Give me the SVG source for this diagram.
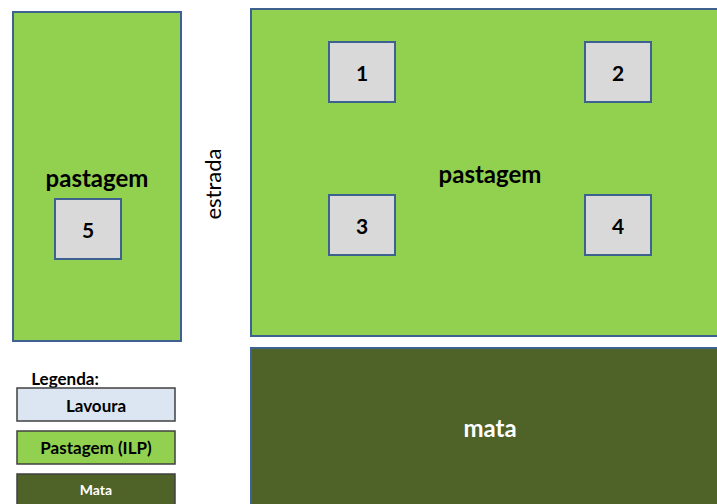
<svg xmlns="http://www.w3.org/2000/svg" width="717" height="504" viewBox="0 0 717 504">
  <style>
    .field { fill: #92D050; stroke: #3E6290; stroke-width: 2; }
    .forest { fill: #4F6228; stroke: #3E6290; stroke-width: 2; }
    .plot { fill: #D9D9D9; stroke: #3E6290; stroke-width: 2; }
    .t { font-family: Lato, "Liberation Sans", sans-serif; font-weight: bold; text-anchor: middle; dominant-baseline: central; fill: #000; }
    .big { font-size: 24px; }
    .num { font-size: 21px; }
    .leg { font-size: 17px; }
    .lg { stroke: #404040; stroke-width: 1.5; }
  </style>

  <!-- left pasture -->
  <g id="pasto-esquerda">
    <rect class="field" x="13" y="12" width="168" height="329"/>
    <text class="t big" x="97" y="177">pastagem</text>
  </g>
  <g id="parcela-5">
    <rect class="plot" x="55" y="199" width="66" height="60"/>
    <text class="t num" x="88" y="229">5</text>
  </g>

  <!-- road label -->
  <g id="estrada">
    <text x="212" y="184" transform="rotate(-90 212 184)" font-family="Lato, 'Liberation Sans', sans-serif" font-size="22" text-anchor="middle" dominant-baseline="central" fill="#000">estrada</text>
  </g>

  <!-- right pasture -->
  <g id="pasto-direita">
    <rect class="field" x="251" y="9" width="470" height="327"/>
    <text class="t big" x="490" y="173">pastagem</text>
  </g>
  <g id="parcela-1">
    <rect class="plot" x="329" y="42" width="66" height="60"/>
    <text class="t num" x="362" y="72">1</text>
  </g>
  <g id="parcela-2">
    <rect class="plot" x="585" y="42" width="66" height="60"/>
    <text class="t num" x="618" y="72">2</text>
  </g>
  <g id="parcela-3">
    <rect class="plot" x="329" y="195" width="66" height="60"/>
    <text class="t num" x="362" y="225">3</text>
  </g>
  <g id="parcela-4">
    <rect class="plot" x="585" y="195" width="66" height="60"/>
    <text class="t num" x="618" y="225">4</text>
  </g>

  <!-- forest -->
  <g id="mata">
    <rect class="forest" x="251" y="348" width="470" height="170"/>
    <text class="t big" x="490" y="427" style="fill:#FFFFFF">mata</text>
  </g>

  <!-- legend -->
  <g id="legenda">
    <text class="t leg" x="65" y="378">Legenda:</text>
    <rect class="lg" x="17" y="388" width="158" height="33" fill="#DCE6F2"/>
    <text class="t leg" x="96" y="405">Lavoura</text>
    <rect class="lg" x="17" y="431" width="158" height="33" fill="#92D050"/>
    <text class="t leg" x="96" y="447">Pastagem (ILP)</text>
    <rect class="lg" x="17" y="474" width="158" height="40" fill="#4F6228"/>
    <text class="t" x="96" y="489" font-size="14" style="fill:#FFFFFF">Mata</text>
  </g>

  <g id="conectores"/>
</svg>
